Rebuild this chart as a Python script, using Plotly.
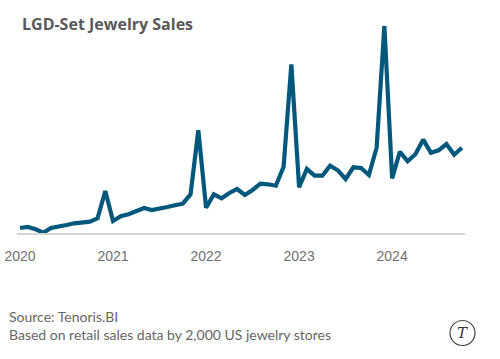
import plotly.graph_objects as go

years = [2020, 2021, 2022, 2023, 2024]
months = [f"{y}-{m:02d}" for y in years for m in range(1, 13)][:58]
# Sales index (unitless; the source shows no value axis)
sales = [
    6, 7, 4.7, 1.3, 6, 8, 9, 10.7, 11.7, 12.3, 15.7, 43,
    13, 17.7, 19.7, 23.3, 26, 24, 26, 27, 28.7, 30.3, 39.7, 103.7,
    26.3, 39.7, 35.7, 41, 45, 39, 44, 50.3, 49.7, 48.3, 67.3, 169.7,
    46.7, 65, 58.3, 58.3, 68.3, 63.7, 55, 66.7, 66, 59, 86.3, 208,
    55.7, 82.3, 72.7, 79.7, 94.3, 81.3, 83.7, 90, 79.3, 86.3,
]
tick_months = [f"{y}-01" for y in years]
tick_text = [str(y) for y in years]
title_text = "LGD-Set Jewelry Sales"
source_lines = ["Source: Tenoris.BI", "Based on retail sales data by 2,000 US jewelry stores"]

L, T, W, H = 17, 10, 448, 223
def px(x):
    return (x - L) / W
def py(y):
    return (T + H - y) / H

fig = go.Figure(go.Scatter(
    x=months, y=sales, mode="lines", cliponaxis=False,
    line=dict(color="#02587C", width=4.2, shape="linear"),
    hoverinfo="skip",
))

fig.update_layout(
    width=500, height=359,
    margin=dict(l=L, r=500 - L - W, t=T, b=359 - T - H),
    paper_bgcolor="white", plot_bgcolor="white",
    showlegend=False,
    font=dict(family="Lato, sans-serif", color="#666666"),
    xaxis=dict(
        type="category", categoryorder="array", categoryarray=months,
        range=[-0.39, 57.4], automargin=False,
        tickmode="array", tickvals=tick_months, ticktext=tick_text,
        showgrid=False, zeroline=False,
        showline=True, linecolor="#D4D4D4", linewidth=2,
        ticks="outside", ticklen=9, tickcolor="rgba(0,0,0,0)",
        tickfont=dict(family="Liberation Sans, sans-serif", size=14, color="#707070"),
    ),
    yaxis=dict(range=[1, 224], visible=False, showgrid=False, zeroline=False),
    annotations=[
        dict(text=f"<b>{title_text}</b>", xref="paper", yref="paper", x=px(20), y=py(24),
             xanchor="left", yanchor="middle", showarrow=False,
             font=dict(family="Open Sans, sans-serif", size=16, color="#595959")),
        dict(text=source_lines[0], xref="paper", yref="paper", x=px(7), y=py(316),
             xanchor="left", yanchor="middle", showarrow=False,
             font=dict(family="Lato, sans-serif", size=14, color="#666666")),
        dict(text=source_lines[1], xref="paper", yref="paper", x=px(7), y=py(334),
             xanchor="left", yanchor="middle", showarrow=False,
             font=dict(family="Lato, sans-serif", size=14, color="#666666")),
        dict(text="<i>T</i>", xref="paper", yref="paper", x=px(462.5), y=py(333),
             xanchor="center", yanchor="middle", showarrow=False,
             font=dict(family="DejaVu Serif, serif", size=15, color="#333333")),
    ],
    shapes=[
        dict(type="circle", xref="paper", yref="paper",
             x0=px(450), x1=px(475), y0=py(345.5), y1=py(320.5),
             line=dict(color="#444444", width=1.2)),
    ],
)

fig.write_html("out.html", post_script="document.body.style.margin='0';",
               config={"displayModeBar": False})
